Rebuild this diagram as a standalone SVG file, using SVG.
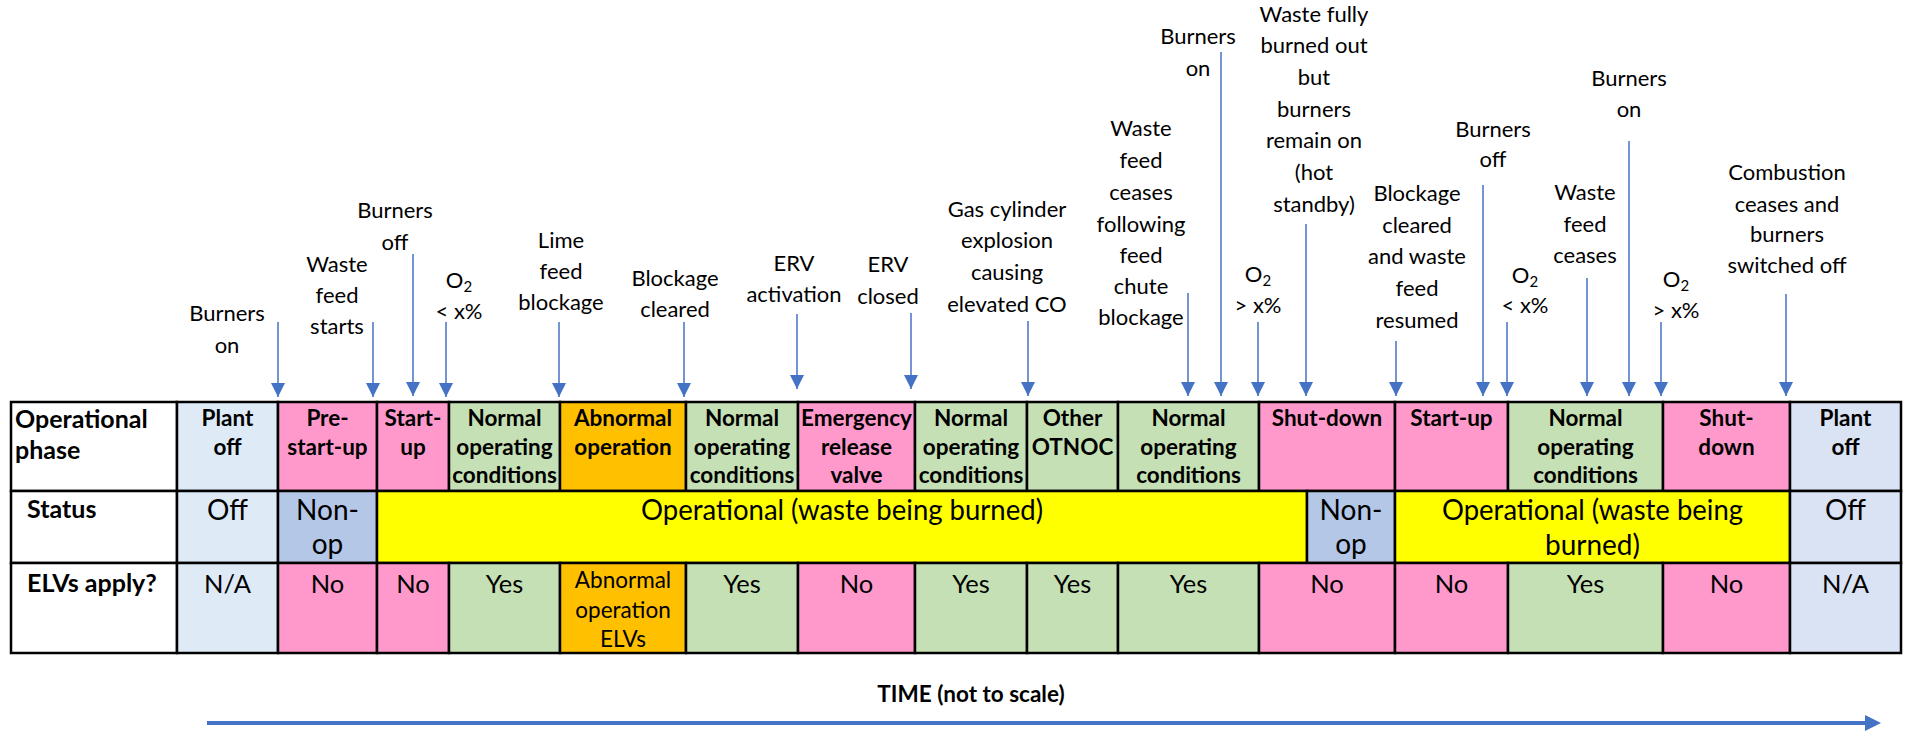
<svg xmlns="http://www.w3.org/2000/svg" width="1905" height="731" viewBox="0 0 1905 731">
<style>
text{font-family:Lato,"Open Sans","Liberation Sans",sans-serif;fill:#000}
.ev{font-size:22px;text-anchor:middle}
.hd{font-size:22.5px;font-weight:bold;text-anchor:middle}
.lb{font-size:25px;font-weight:bold}
.st{font-size:28px;text-anchor:middle}
.el{font-size:25.5px;text-anchor:middle}
.sm{font-size:22.5px;text-anchor:middle}
.cell{stroke:#000;stroke-width:2.5}
.w{fill:#fff}.lb1{fill:#DEEBF7}.lb2{fill:#DAE3F3}.pk{fill:#FF99CC}.gr{fill:#C5E0B4}.or{fill:#FFC000}.ye{fill:#FFFF00}.nb{fill:#B4C7E7}
.ar{stroke:#4472C4;stroke-width:1.5;fill:none;marker-end:url(#ah)}
</style>
<defs>
<marker id="ah" viewBox="0 0 10 10" refX="10" refY="5" markerWidth="15" markerHeight="14" markerUnits="userSpaceOnUse" orient="auto">
<path d="M0,0 L10,5 L0,10 z" fill="#4472C4"/>
</marker>
</defs>
<rect width="1905" height="731" fill="#fff"/>

<g id="table">
<g id="row-labels">
<rect class="cell w" x="11" y="402" width="166" height="89"/>
<rect class="cell w" x="11" y="491" width="166" height="72"/>
<rect class="cell w" x="11" y="563" width="166" height="90"/>
<text class="lb" x="15" y="428">Operational</text>
<text class="lb" x="15" y="459">phase</text>
<text class="lb" x="27" y="518">Status</text>
<text class="lb" x="27" y="592">ELVs apply?</text>
</g>

<g id="phase-row">
<rect class="cell lb1" x="177" y="402" width="101" height="89"/>
<rect class="cell pk" x="278" y="402" width="99" height="89"/>
<rect class="cell pk" x="377" y="402" width="72" height="89"/>
<rect class="cell gr" x="449" y="402" width="111" height="89"/>
<rect class="cell or" x="560" y="402" width="126" height="89"/>
<rect class="cell gr" x="686" y="402" width="112" height="89"/>
<rect class="cell pk" x="798" y="402" width="117" height="89"/>
<rect class="cell gr" x="915" y="402" width="112" height="89"/>
<rect class="cell gr" x="1027" y="402" width="91" height="89"/>
<rect class="cell gr" x="1118" y="402" width="141" height="89"/>
<rect class="cell pk" x="1259" y="402" width="136" height="89"/>
<rect class="cell pk" x="1395" y="402" width="113" height="89"/>
<rect class="cell gr" x="1508" y="402" width="155" height="89"/>
<rect class="cell pk" x="1663" y="402" width="127" height="89"/>
<rect class="cell lb2" x="1790" y="402" width="111" height="89"/>
<text class="hd" x="227.5" y="426">Plant</text><text class="hd" x="227.5" y="455">off</text>
<text class="hd" x="327.5" y="426">Pre-</text><text class="hd" x="327.5" y="455">start-up</text>
<text class="hd" x="413" y="426">Start-</text><text class="hd" x="413" y="455">up</text>
<text class="hd" x="504.5" y="426">Normal</text><text class="hd" x="504.5" y="455">operating</text><text class="hd" x="504.5" y="483">conditions</text>
<text class="hd" x="623" y="426">Abnormal</text><text class="hd" x="623" y="455">operation</text>
<text class="hd" x="742" y="426">Normal</text><text class="hd" x="742" y="455">operating</text><text class="hd" x="742" y="483">conditions</text>
<text class="hd" x="856.5" y="426">Emergency</text><text class="hd" x="856.5" y="455">release</text><text class="hd" x="856.5" y="483">valve</text>
<text class="hd" x="971" y="426">Normal</text><text class="hd" x="971" y="455">operating</text><text class="hd" x="971" y="483">conditions</text>
<text class="hd" x="1072.5" y="426">Other</text><text class="hd" x="1072.5" y="455">OTNOC</text>
<text class="hd" x="1188.5" y="426">Normal</text><text class="hd" x="1188.5" y="455">operating</text><text class="hd" x="1188.5" y="483">conditions</text>
<text class="hd" x="1327" y="426">Shut-down</text>
<text class="hd" x="1451.5" y="426">Start-up</text>
<text class="hd" x="1585.5" y="426">Normal</text><text class="hd" x="1585.5" y="455">operating</text><text class="hd" x="1585.5" y="483">conditions</text>
<text class="hd" x="1726.5" y="426">Shut-</text><text class="hd" x="1726.5" y="455">down</text>
<text class="hd" x="1845.5" y="426">Plant</text><text class="hd" x="1845.5" y="455">off</text>
</g>

<g id="status-row">
<rect class="cell lb1" x="177" y="491" width="101" height="72"/>
<rect class="cell nb" x="278" y="491" width="99" height="72"/>
<rect class="cell ye" x="377" y="491" width="930" height="72"/>
<rect class="cell nb" x="1307" y="491" width="88" height="72"/>
<rect class="cell ye" x="1395" y="491" width="395" height="72"/>
<rect class="cell lb2" x="1790" y="491" width="111" height="72"/>
<text class="st" x="227.5" y="520">Off</text>
<text class="st" x="327.5" y="520">Non-</text><text class="st" x="327.5" y="554">op</text>
<text class="st" x="842" y="520" textLength="402" lengthAdjust="spacingAndGlyphs">Operational (waste being burned)</text>
<text class="st" x="1351" y="520">Non-</text><text class="st" x="1351" y="554">op</text>
<text class="st" x="1592.5" y="520" textLength="301" lengthAdjust="spacingAndGlyphs">Operational (waste being</text><text class="st" x="1592.5" y="555">burned)</text>
<text class="st" x="1845.5" y="520">Off</text>
</g>

<g id="elv-row">
<rect class="cell lb1" x="177" y="563" width="101" height="90"/>
<rect class="cell pk" x="278" y="563" width="99" height="90"/>
<rect class="cell pk" x="377" y="563" width="72" height="90"/>
<rect class="cell gr" x="449" y="563" width="111" height="90"/>
<rect class="cell or" x="560" y="563" width="126" height="90"/>
<rect class="cell gr" x="686" y="563" width="112" height="90"/>
<rect class="cell pk" x="798" y="563" width="117" height="90"/>
<rect class="cell gr" x="915" y="563" width="112" height="90"/>
<rect class="cell gr" x="1027" y="563" width="91" height="90"/>
<rect class="cell gr" x="1118" y="563" width="141" height="90"/>
<rect class="cell pk" x="1259" y="563" width="136" height="90"/>
<rect class="cell pk" x="1395" y="563" width="113" height="90"/>
<rect class="cell gr" x="1508" y="563" width="155" height="90"/>
<rect class="cell pk" x="1663" y="563" width="127" height="90"/>
<rect class="cell lb2" x="1790" y="563" width="111" height="90"/>
<text class="el" x="227.5" y="593">N/A</text>
<text class="el" x="327.5" y="593">No</text>
<text class="el" x="413" y="593">No</text>
<text class="el" x="504.5" y="593">Yes</text>
<text class="sm" x="623" y="588">Abnormal</text><text class="sm" x="623" y="618">operation</text><text class="sm" x="623" y="647">ELVs</text>
<text class="el" x="742" y="593">Yes</text>
<text class="el" x="856.5" y="593">No</text>
<text class="el" x="971" y="593">Yes</text>
<text class="el" x="1072.5" y="593">Yes</text>
<text class="el" x="1188.5" y="593">Yes</text>
<text class="el" x="1327" y="593">No</text>
<text class="el" x="1451.5" y="593">No</text>
<text class="el" x="1585.5" y="593">Yes</text>
<text class="el" x="1726.5" y="593">No</text>
<text class="el" x="1845.5" y="593">N/A</text>
</g>
</g>

<g id="event-labels">
<g id="e1"><text class="ev" x="227" y="321">Burners</text><text class="ev" x="227" y="353">on</text></g>
<g id="e2"><text class="ev" x="337" y="272">Waste</text><text class="ev" x="337" y="303">feed</text><text class="ev" x="337" y="334">starts</text></g>
<g id="e3"><text class="ev" x="395" y="218">Burners</text><text class="ev" x="395" y="250">off</text></g>
<g id="e4"><text class="ev" x="459" y="288">O<tspan font-size="15" dy="4">2</tspan></text><text class="ev" x="459" y="319">&lt; x%</text></g>
<g id="e5"><text class="ev" x="561" y="248">Lime</text><text class="ev" x="561" y="279">feed</text><text class="ev" x="561" y="310">blockage</text></g>
<g id="e6"><text class="ev" x="675" y="286">Blockage</text><text class="ev" x="675" y="317">cleared</text></g>
<g id="e7"><text class="ev" x="794" y="271">ERV</text><text class="ev" x="794" y="302">activation</text></g>
<g id="e8"><text class="ev" x="888" y="272">ERV</text><text class="ev" x="888" y="304">closed</text></g>
<g id="e9"><text class="ev" x="1007" y="217">Gas cylinder</text><text class="ev" x="1007" y="248">explosion</text><text class="ev" x="1007" y="280">causing</text><text class="ev" x="1007" y="312">elevated CO</text></g>
<g id="e10"><text class="ev" x="1141" y="136">Waste</text><text class="ev" x="1141" y="168">feed</text><text class="ev" x="1141" y="200">ceases</text><text class="ev" x="1141" y="232">following</text><text class="ev" x="1141" y="263">feed</text><text class="ev" x="1141" y="294">chute</text><text class="ev" x="1141" y="325">blockage</text></g>
<g id="e11"><text class="ev" x="1198" y="44">Burners</text><text class="ev" x="1198" y="76">on</text></g>
<g id="e12"><text class="ev" x="1258" y="282">O<tspan font-size="15" dy="4">2</tspan></text><text class="ev" x="1258" y="313">&gt; x%</text></g>
<g id="e13"><text class="ev" x="1314" y="22">Waste fully</text><text class="ev" x="1314" y="53">burned out</text><text class="ev" x="1314" y="85">but</text><text class="ev" x="1314" y="117">burners</text><text class="ev" x="1314" y="148">remain on</text><text class="ev" x="1314" y="180">(hot</text><text class="ev" x="1314" y="212">standby)</text></g>
<g id="e14"><text class="ev" x="1417" y="201">Blockage</text><text class="ev" x="1417" y="233">cleared</text><text class="ev" x="1417" y="264">and waste</text><text class="ev" x="1417" y="296">feed</text><text class="ev" x="1417" y="328">resumed</text></g>
<g id="e15"><text class="ev" x="1493" y="137">Burners</text><text class="ev" x="1493" y="167">off</text></g>
<g id="e16"><text class="ev" x="1525" y="283">O<tspan font-size="15" dy="4">2</tspan></text><text class="ev" x="1525" y="313">&lt; x%</text></g>
<g id="e17"><text class="ev" x="1585" y="200">Waste</text><text class="ev" x="1585" y="232">feed</text><text class="ev" x="1585" y="263">ceases</text></g>
<g id="e18"><text class="ev" x="1629" y="86">Burners</text><text class="ev" x="1629" y="117">on</text></g>
<g id="e19"><text class="ev" x="1676" y="287">O<tspan font-size="15" dy="4">2</tspan></text><text class="ev" x="1676" y="318">&gt; x%</text></g>
<g id="e20"><text class="ev" x="1787" y="180">Combustion</text><text class="ev" x="1787" y="212">ceases and</text><text class="ev" x="1787" y="242">burners</text><text class="ev" x="1787" y="273">switched off</text></g>
</g>

<g id="connectors">
<line class="ar" x1="278" y1="322" x2="278" y2="397"/>
<line class="ar" x1="373" y1="322" x2="373" y2="397"/>
<line class="ar" x1="413" y1="254" x2="413" y2="396"/>
<line class="ar" x1="446" y1="322" x2="446" y2="397"/>
<line class="ar" x1="559" y1="322" x2="559" y2="397"/>
<line class="ar" x1="684" y1="322" x2="684" y2="397"/>
<line class="ar" x1="797" y1="314" x2="797" y2="389"/>
<line class="ar" x1="911" y1="313" x2="911" y2="389"/>
<line class="ar" x1="1028" y1="321" x2="1028" y2="396"/>
<line class="ar" x1="1188" y1="293" x2="1188" y2="396"/>
<line class="ar" x1="1221" y1="52" x2="1221" y2="396"/>
<line class="ar" x1="1258" y1="322" x2="1258" y2="396"/>
<line class="ar" x1="1306" y1="224" x2="1306" y2="396"/>
<line class="ar" x1="1396" y1="341" x2="1396" y2="396"/>
<line class="ar" x1="1483" y1="185" x2="1483" y2="396"/>
<line class="ar" x1="1507" y1="322" x2="1507" y2="396"/>
<line class="ar" x1="1587" y1="278" x2="1587" y2="396"/>
<line class="ar" x1="1629" y1="141" x2="1629" y2="396"/>
<line class="ar" x1="1661" y1="322" x2="1661" y2="396"/>
<line class="ar" x1="1786" y1="294" x2="1786" y2="396"/>
</g>

<g id="time-axis">
<line x1="207" y1="723" x2="1866" y2="723" stroke="#4472C4" stroke-width="4"/>
<polygon points="1865,715 1881,723 1865,731" fill="#4472C4"/>
<text x="971" y="702" font-size="22.5" font-weight="bold" text-anchor="middle">TIME (not to scale)</text>
</g>
</svg>
